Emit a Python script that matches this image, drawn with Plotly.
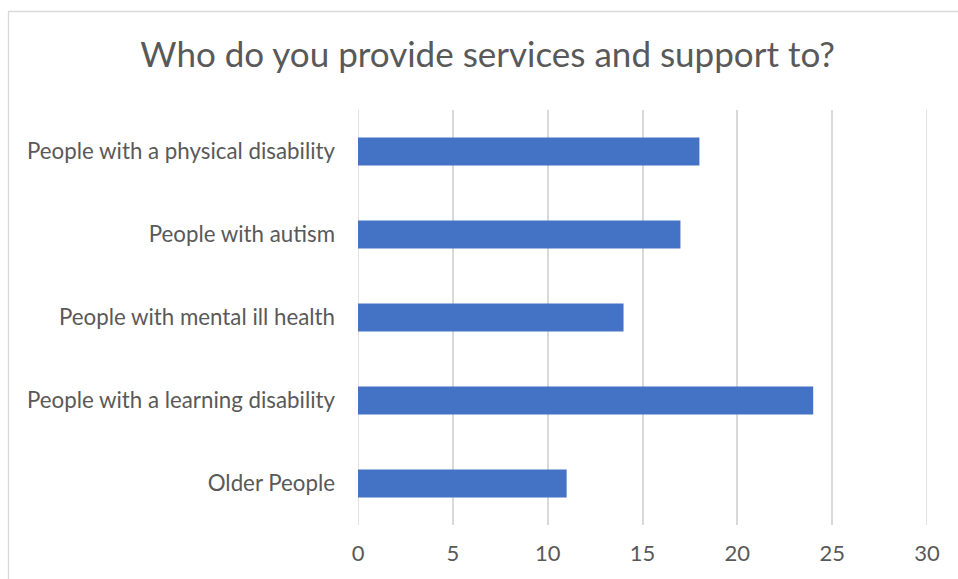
import plotly.graph_objects as go

# Categories listed top to bottom, with their counts
categories = [
    "People with a physical disability",
    "People with autism",
    "People with mental ill health",
    "People with a learning disability",
    "Older People",
]
counts = [18, 17, 14, 24, 11]
x_ticks = [0, 5, 10, 15, 20, 25, 30]

W, H = 958, 579
ML, MR, MT, MB = 358, 31, 110, 54
plot_w = W - ML - MR
plot_h = H - MT - MB

FONT = "Lato"
TEXT = "#595959"
GRID = "#d9d9d9"

fig = go.Figure(
    go.Bar(
        x=counts,
        y=categories,
        orientation="h",
        marker=dict(color="#4472C4", line=dict(width=0)),
        width=0.34,
    )
)

# Outer chart frame (extends past the right and bottom edges of the page)
fig.add_shape(
    type="rect",
    xref="paper", yref="paper",
    x0=(8.5 - ML) / plot_w, x1=(W + 40 - ML) / plot_w,
    y0=(MT + plot_h - (H + 40)) / plot_h, y1=(MT + plot_h - 11.5) / plot_h,
    line=dict(color=GRID, width=1.3),
    fillcolor="rgba(0,0,0,0)",
    layer="below",
)

# Gridlines at both ends of the value axis
for v in (x_ticks[0], x_ticks[-1]):
    fig.add_shape(
        type="line", xref="x", yref="paper",
        x0=v, x1=v, y0=0, y1=1,
        line=dict(color=GRID, width=1.5),
        layer="below",
    )

fig.update_layout(
    width=W, height=H,
    margin=dict(l=ML, r=MR, t=MT, b=MB),
    paper_bgcolor="white",
    plot_bgcolor="white",
    showlegend=False,
    title=dict(
        text="Who do you provide services and support to?",
        x=0.509, xanchor="center",
        y=1 - 55 / H, yanchor="middle",
        font=dict(family=FONT, size=35, color=TEXT),
    ),
    xaxis=dict(
        range=[0, 30],
        tickvals=x_ticks,
        showgrid=True, gridcolor=GRID, gridwidth=1.5,
        zeroline=False, showline=False,
        ticks="", ticklabelstandoff=13,
        tickfont=dict(family=FONT, size=22, color=TEXT),
        fixedrange=True,
    ),
    yaxis=dict(
        autorange="reversed",
        showgrid=False, zeroline=False, showline=False,
        ticks="", ticklabelstandoff=22,
        tickfont=dict(family=FONT, size=22.3, color=TEXT),
        fixedrange=True,
    ),
    bargap=0.66,
)

fig.write_html("out.html")
